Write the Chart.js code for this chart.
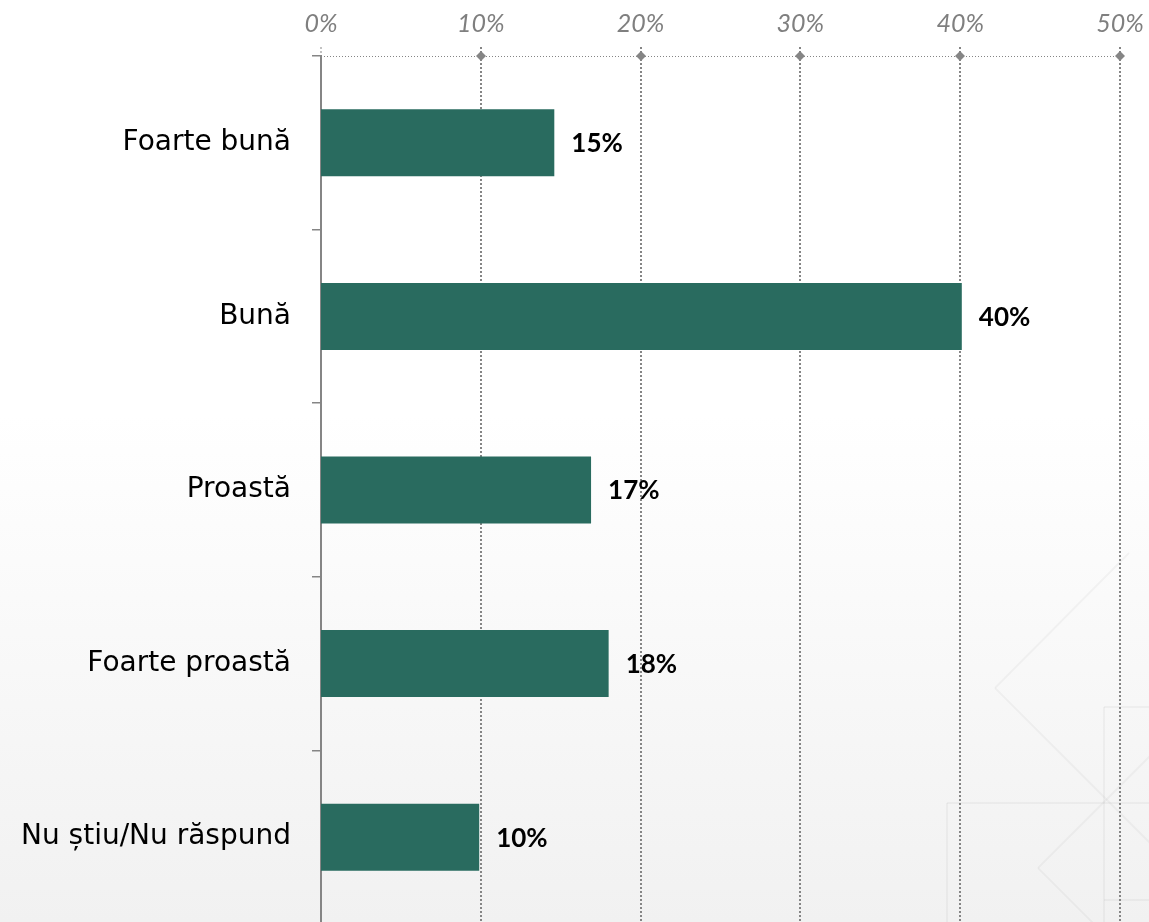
<!DOCTYPE html>
<html>
<head>
<meta charset="utf-8">
<script src="https://cdn.jsdelivr.net/npm/chart.js@4.4.1/dist/chart.umd.min.js"></script>
<style>
  html, body { margin: 0; padding: 0; overflow: hidden; }
  body {
    width: 1149px; height: 922px;
    background: linear-gradient(to bottom, #ffffff 0%, #ffffff 45%, #f1f1f1 100%);
  }
  canvas { display: block; }
</style>
</head>
<body>
<canvas id="opinionBarChart" width="1149" height="924"></canvas>
<script>
// Data
const categories = ['Foarte bună', 'Bună', 'Proastă', 'Foarte proastă', 'Nu știu/Nu răspund'];
const shares = [14.6, 40.1, 16.9, 18.0, 9.9];
const shareLabels = ['15%', '40%', '17%', '18%', '10%'];
const axisTicks = [0, 10, 20, 30, 40, 50];

const GRID_GREY = '#858585';

// faint diamond ornaments in the bottom right corner (page decoration)
const ornamentPlugin = {
    id: 'ornament',
    beforeDraw(chart) {
        const c = chart.ctx;
        c.save();
        c.strokeStyle = 'rgba(0,0,0,0.035)';
        c.lineWidth = 2;
        const segs = [
            [995, 688, 1129, 553], [995, 688, 1160, 853],
            [1038, 868, 1170, 736], [1038, 868, 1100, 930],
            [1104, 707, 1104, 922], [1104, 707, 1149, 707],
            [947, 803, 1149, 803], [947, 803, 947, 922],
            [1104, 900, 1149, 900]
        ];
        segs.forEach(s => {
            c.beginPath();
            c.moveTo(s[0], s[1]);
            c.lineTo(s[2], s[3]);
            c.stroke();
        });
        c.restore();
    }
};

// dotted value grid with diamond markers along the top axis
const dottedGridPlugin = {
    id: 'dottedGrid',
    beforeDatasetsDraw(chart) {
        const c = chart.ctx;
        const x = chart.scales.x;
        const area = chart.chartArea;
        c.save();
        c.strokeStyle = GRID_GREY;
        c.fillStyle = GRID_GREY;

        // top axis line
        c.lineWidth = 1;
        c.setLineDash([1, 2]);
        c.beginPath();
        c.moveTo(area.left, area.top + 0.5);
        c.lineTo(x.getPixelForValue(50), area.top + 0.5);
        c.stroke();

        axisTicks.forEach(v => {
            const px = Math.round(x.getPixelForValue(v));
            c.lineWidth = v === 0 ? 1 : 2;
            c.setLineDash([2, 2]);
            c.beginPath();
            c.moveTo(px, area.top - 9);
            c.lineTo(px, v === 0 ? area.top : area.bottom);
            c.stroke();
            if (v > 0) {
                c.setLineDash([]);
                c.beginPath();
                c.moveTo(px, area.top - 5);
                c.lineTo(px + 5, area.top);
                c.lineTo(px, area.top + 5);
                c.lineTo(px - 5, area.top);
                c.closePath();
                c.fill();
            }
        });
        c.restore();
    }
};

// bold value labels to the right of each bar
const valueLabelPlugin = {
    id: 'valueLabels',
    afterDatasetsDraw(chart) {
        const c = chart.ctx;
        const meta = chart.getDatasetMeta(0);
        c.save();
        c.font = "bold 26px 'Lato', sans-serif";
        c.fillStyle = '#000';
        c.textAlign = 'left';
        c.textBaseline = 'middle';
        meta.data.forEach((bar, i) => {
            c.fillText(shareLabels[i], bar.x + 17, bar.y + 1);
        });
        c.restore();
    }
};

new Chart(document.getElementById('opinionBarChart'), {
    type: 'bar',
    data: {
        labels: categories,
        datasets: [{
            data: shares,
            backgroundColor: '#296b5f',
            borderWidth: 0,
            categoryPercentage: 1,
            barPercentage: 0.386
        }]
    },
    plugins: [ornamentPlugin, dottedGridPlugin, valueLabelPlugin],
    options: {
        indexAxis: 'y',
        responsive: false,
        animation: false,
        layout: { padding: { left: 0, right: 29, top: 0, bottom: 0 } },
        plugins: {
            legend: { display: false },
            tooltip: { enabled: false }
        },
        scales: {
            x: {
                position: 'top',
                min: 0,
                max: 50,
                afterBuildTicks: scale => {
                    scale.ticks = axisTicks.map(v => ({ value: v }));
                },
                afterFit: scale => {
                    scale.height = 56;
                    scale.paddingLeft = 0;
                    scale.paddingRight = 0;
                },
                grid: { display: false },
                border: { display: false },
                ticks: {
                    padding: 9,
                    color: '#7f7f7f',
                    font: { family: "'Lato', sans-serif", size: 25, style: 'italic' },
                    callback: v => v + '%'
                }
            },
            y: {
                afterFit: scale => {
                    scale.width = 321;
                    scale.paddingTop = 0;
                    scale.paddingBottom = 0;
                },
                grid: {
                    display: true,
                    drawOnChartArea: false,
                    offset: true,
                    tickLength: 9,
                    color: GRID_GREY,
                    lineWidth: 1.5
                },
                border: { display: true, color: GRID_GREY, width: 2 },
                ticks: {
                    padding: 21,
                    color: '#000',
                    font: { family: "'DejaVu Sans', sans-serif", size: 28 }
                }
            }
        }
    }
});
</script>
</body>
</html>
